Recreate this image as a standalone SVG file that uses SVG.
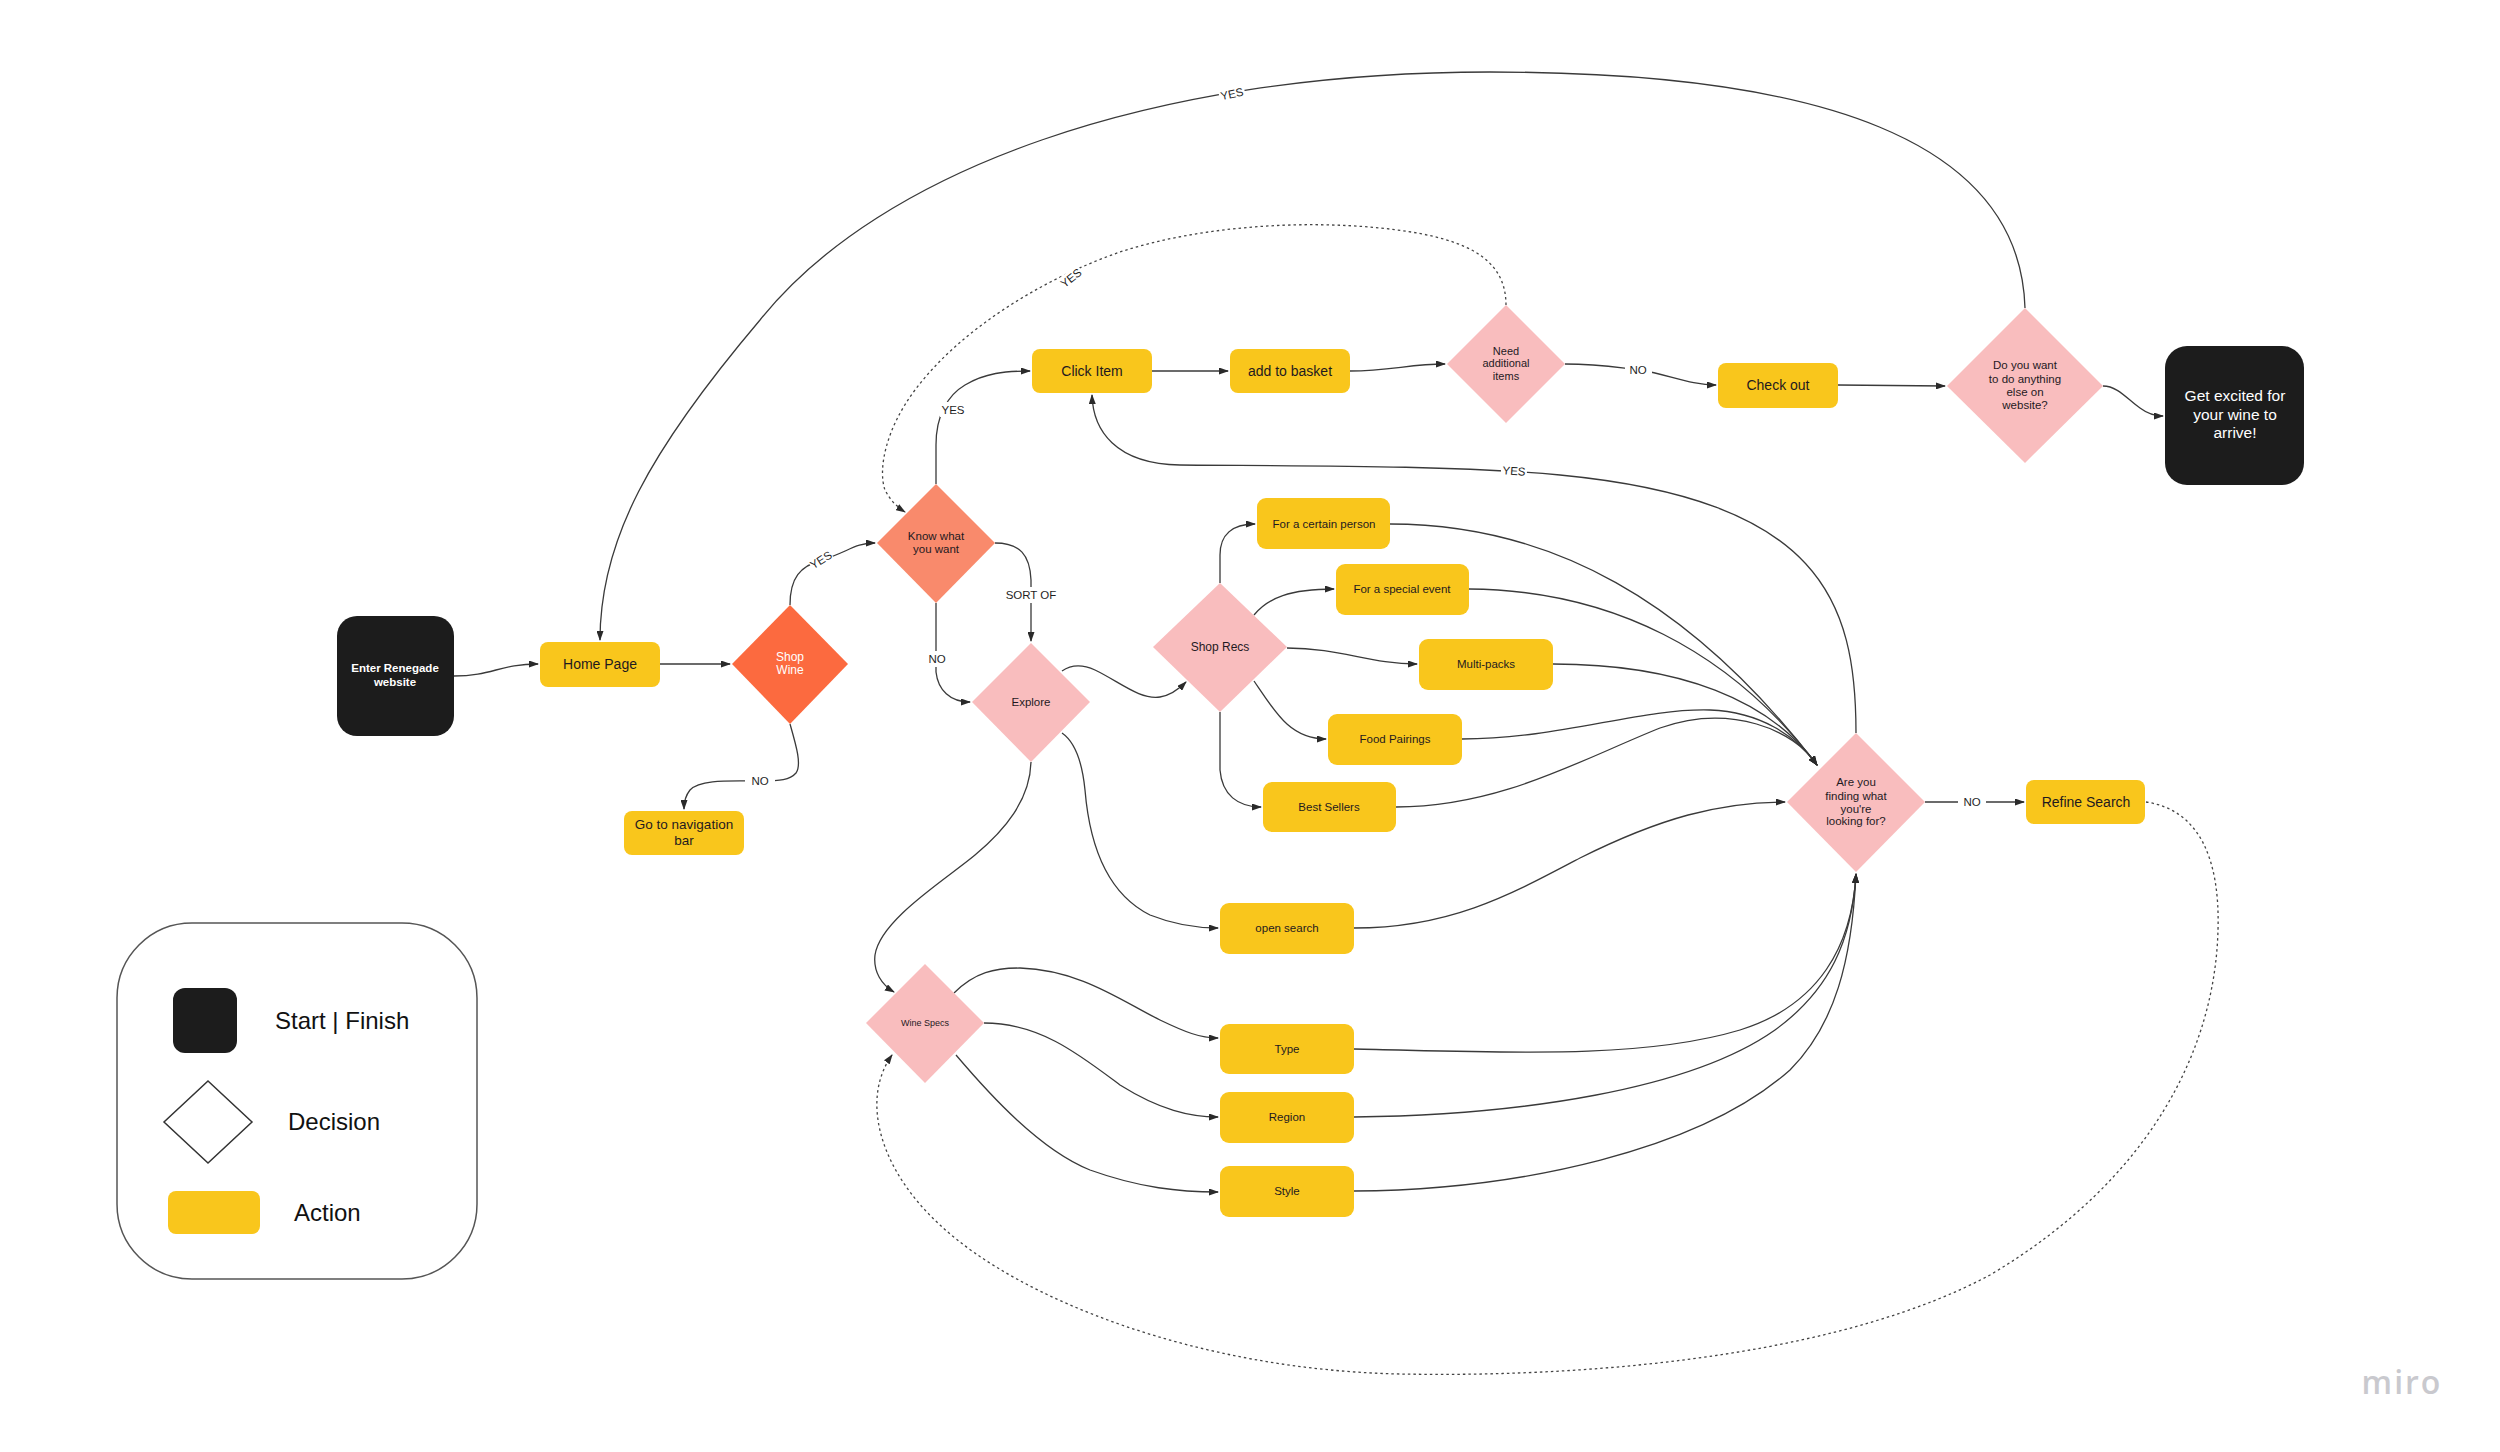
<svg xmlns="http://www.w3.org/2000/svg" width="2500" height="1452" viewBox="0 0 2500 1452">
<defs>
<marker id="arr" markerUnits="userSpaceOnUse" markerWidth="10" markerHeight="7" refX="9" refY="3.5" orient="auto">
<path d="M0,0 L10,3.5 L0,7 z" fill="#2a2a2a"/>
</marker>
<style>
.act{fill:#F9C61C}
.dec{fill:#F9BDBE}
.term{fill:#1c1c1c}
.t{font-family:"Liberation Sans",Arial,sans-serif;text-anchor:middle;fill:#1f1a1f}
.tw{font-family:"Liberation Sans",Arial,sans-serif;text-anchor:middle;fill:#ffffff}
.e{fill:none;stroke:#3a3a3a;stroke-width:1.3}
.ea{fill:none;stroke:#3a3a3a;stroke-width:1.3;marker-end:url(#arr)}
.ed{fill:none;stroke:#444;stroke-width:1.3;stroke-dasharray:2.5 3;marker-end:url(#arr)}
.lbg{fill:#ffffff}
.lbl{font-family:"Liberation Sans",Arial,sans-serif;font-size:11.5px;text-anchor:middle;fill:#1f1f1f}
.lg{font-family:"Liberation Sans",Arial,sans-serif;font-size:24px;fill:#111}
</style>
</defs>
<rect width="2500" height="1452" fill="#ffffff"/>

<g id="connectors">
<path class="ea" d="M454,676 C492,676 500,664 538,664"/>
<path class="ea" d="M660,664 L730,664"/>
<path class="ea" d="M790,605 C790,578 800,566 822,560 C848,552 855,543 875,543"/>
<path class="ea" d="M790,724 C796,745 802,765 796,773 C790,780 780,781 760,781 C730,781 700,779 690,790 C686,795 684,800 684,809"/>
<path class="ea" d="M936,484 L936,445 C936,415 948,395 965,385 C985,373 1005,371 1030,371"/>
<path class="ea" d="M995,543 C1020,543 1030,555 1031,580 L1031,641"/>
<path class="ea" d="M936,603 L936,672 C938,690 950,702 970,702"/>
<path class="ea" d="M1062,671 C1072,664 1082,664 1095,670 C1120,682 1140,700 1160,697 C1172,695 1180,688 1186,682"/>
<path class="ea" d="M1220,583 L1220,555 C1220,535 1232,524 1255,524"/>
<path class="ea" d="M1254,615 C1268,598 1290,589 1334,589"/>
<path class="ea" d="M1287,648 C1340,648 1370,664 1417,664"/>
<path class="ea" d="M1254,681 C1275,712 1290,739 1326,739"/>
<path class="ea" d="M1220,712 L1220,770 C1222,795 1238,807 1261,807"/>
<path class="ea" d="M1031,762 C1030,800 1005,830 975,855 C945,880 880,920 875,955 C873,972 882,985 894,992"/>
<path class="ea" d="M1062,733 C1075,742 1082,760 1085,790 C1090,850 1110,895 1150,915 C1175,925 1195,928 1218,928"/>
<path class="ea" d="M954,993 C975,972 995,968 1020,968 C1080,970 1120,1000 1160,1020 C1185,1032 1200,1038 1218,1038"/>
<path class="ea" d="M984,1023 C1040,1023 1080,1055 1120,1085 C1160,1110 1190,1117 1218,1117"/>
<path class="ea" d="M956,1055 C990,1095 1040,1150 1090,1170 C1140,1188 1180,1192 1218,1192"/>
<path class="ea" d="M1152,371 L1228,371"/>
<path class="ea" d="M1350,371 C1390,371 1410,364 1445,364"/>
<path class="ea" d="M1565,364 C1600,364 1620,368 1640,370 C1670,375 1690,385 1716,385"/>
<path class="ea" d="M1838,385 L1945,386"/>
<path class="ea" d="M2103,386 C2118,386 2128,400 2140,408 C2148,414 2155,416 2163,416"/>
<path class="ea" d="M2025,308 C2020,140 1820,72 1490,72 C1150,72 880,170 760,320 C650,450 600,540 600,640"/>
<path class="ed" d="M1506,305 C1506,255 1460,236 1380,228 C1300,220 1200,226 1120,252 C1040,280 960,330 915,390 C885,430 878,470 885,490 C890,500 897,507 905,512"/>
<path class="ea" d="M1856,733 C1856,600 1820,500 1560,475 C1450,465 1300,466 1180,465 C1115,464 1093,430 1092,395"/>
<path class="ea" d="M1925,802 L2024,802"/>
<path class="ed" d="M2146,802 C2200,810 2220,860 2218,930 C2215,1050 2150,1180 1990,1275 C1850,1350 1620,1378 1400,1374 C1200,1370 1020,1300 940,1225 C880,1170 860,1100 892,1055"/>
<path class="ea" d="M1390,524 C1550,524 1690,600 1817,765"/>
<path class="ea" d="M1469,589 C1610,590 1730,650 1817,765"/>
<path class="ea" d="M1553,664 C1680,664 1770,700 1817,765"/>
<path class="ea" d="M1462,739 C1560,739 1640,708 1710,710 C1760,712 1795,735 1817,765"/>
<path class="ea" d="M1396,807 C1500,807 1580,760 1660,728 C1730,703 1795,730 1817,765"/>
<path class="ea" d="M1354,928 C1450,928 1510,895 1580,858 C1660,818 1720,802 1785,802"/>
<path class="ea" d="M1354,1049 C1500,1052 1640,1060 1740,1030 C1820,1005 1852,945 1856,874"/>
<path class="ea" d="M1354,1117 C1520,1115 1690,1090 1775,1030 C1830,990 1852,940 1856,874"/>
<path class="ea" d="M1354,1191 C1520,1190 1700,1150 1790,1070 C1835,1025 1852,960 1856,874"/>
<!-- labels -->
<g transform="translate(821,560) rotate(-32)"><rect class="lbg" x="-12" y="-7" width="24" height="14"/><text class="lbl" x="0" y="4" font-size="11">YES</text></g>
<rect class="lbg" x="745" y="773" width="30" height="16"/><text class="lbl" x="760" y="785">NO</text>
<rect class="lbg" x="940" y="402" width="26" height="15"/><text class="lbl" x="953" y="414">YES</text>
<rect class="lbg" x="1005" y="587" width="52" height="16"/><text class="lbl" x="1031" y="599">SORT OF</text>
<rect class="lbg" x="925" y="651" width="24" height="16"/><text class="lbl" x="937" y="663">NO</text>
<rect class="lbg" x="1625" y="362" width="27" height="16"/><text class="lbl" x="1638" y="374">NO</text>
<g transform="translate(1232,94) rotate(-12)"><rect class="lbg" x="-13" y="-7" width="26" height="14"/><text class="lbl" x="0" y="4" font-size="11">YES</text></g>
<g transform="translate(1071,278) rotate(-38)"><rect class="lbg" x="-13" y="-7" width="26" height="14"/><text class="lbl" x="0" y="4" font-size="11">YES</text></g>
<g transform="translate(1514,471) rotate(4)"><rect class="lbg" x="-13" y="-7" width="26" height="14"/><text class="lbl" x="0" y="4" font-size="11">YES</text></g>
<rect class="lbg" x="1958" y="794" width="28" height="16"/><text class="lbl" x="1972" y="806">NO</text>
</g>

<g id="n_enter"><rect class="term" x="337" y="616" width="117" height="120" rx="20"/><text class="tw" font-size="11.5" font-weight="bold"><tspan x="395" y="672">Enter Renegade</tspan><tspan x="395" y="686">website</tspan></text></g>
<g id="n_home"><rect class="act" x="540" y="642" width="120" height="45" rx="8"/><text class="t" x="600" y="669" font-size="14">Home Page</text></g>
<g id="n_shopwine"><polygon points="790,605 848,664 790,724 732,664" fill="#FC6A3F"/><text class="tw" font-size="12"><tspan x="790" y="661">Shop</tspan><tspan x="790" y="674">Wine</tspan></text></g>
<g id="n_nav"><rect class="act" x="624" y="811" width="120" height="44" rx="8"/><text class="t" font-size="13.5"><tspan x="684" y="829">Go to navigation</tspan><tspan x="684" y="845">bar</tspan></text></g>
<g id="n_know"><polygon points="936,484 995,543 936,603 877,543" fill="#F98A6C"/><text class="t" font-size="11.5"><tspan x="936" y="540">Know what</tspan><tspan x="936" y="553">you want</tspan></text></g>
<g id="n_explore"><polygon class="dec" points="1031,643 1090,702 1031,762 972,702"/><text class="t" x="1031" y="706" font-size="11.5">Explore</text></g>
<g id="n_shoprecs"><polygon class="dec" points="1220,583 1287,647 1220,712 1153,647"/><text class="t" x="1220" y="651" font-size="12">Shop Recs</text></g>
<g id="n_person"><rect class="act" x="1257" y="498" width="133" height="51" rx="9"/><text class="t" x="1324" y="528" font-size="11.5">For a certain person</text></g>
<g id="n_event"><rect class="act" x="1336" y="564" width="133" height="51" rx="9"/><text class="t" x="1402" y="593" font-size="11.5">For a special event</text></g>
<g id="n_multi"><rect class="act" x="1419" y="639" width="134" height="51" rx="9"/><text class="t" x="1486" y="668" font-size="11.5">Multi-packs</text></g>
<g id="n_food"><rect class="act" x="1328" y="714" width="134" height="51" rx="9"/><text class="t" x="1395" y="743" font-size="11.5">Food Pairings</text></g>
<g id="n_best"><rect class="act" x="1263" y="782" width="133" height="50" rx="9"/><text class="t" x="1329" y="811" font-size="11.5">Best Sellers</text></g>
<g id="n_open"><rect class="act" x="1220" y="903" width="134" height="51" rx="9"/><text class="t" x="1287" y="932" font-size="11.5">open search</text></g>
<g id="n_winespecs"><polygon class="dec" points="925,964 984,1023 925,1083 866,1023"/><text class="t" x="925" y="1026" font-size="9">Wine Specs</text></g>
<g id="n_type"><rect class="act" x="1220" y="1024" width="134" height="50" rx="9"/><text class="t" x="1287" y="1053" font-size="11.5">Type</text></g>
<g id="n_region"><rect class="act" x="1220" y="1092" width="134" height="51" rx="9"/><text class="t" x="1287" y="1121" font-size="11.5">Region</text></g>
<g id="n_style"><rect class="act" x="1220" y="1166" width="134" height="51" rx="9"/><text class="t" x="1287" y="1195" font-size="11.5">Style</text></g>
<g id="n_click"><rect class="act" x="1032" y="349" width="120" height="44" rx="8"/><text class="t" x="1092" y="376" font-size="14">Click Item</text></g>
<g id="n_add"><rect class="act" x="1230" y="349" width="120" height="44" rx="8"/><text class="t" x="1290" y="376" font-size="14">add to basket</text></g>
<g id="n_need"><polygon class="dec" points="1506,305 1565,364 1506,423 1447,364"/><text class="t" font-size="11"><tspan x="1506" y="355">Need</tspan><tspan x="1506" y="367">additional</tspan><tspan x="1506" y="380">items</tspan></text></g>
<g id="n_checkout"><rect class="act" x="1718" y="363" width="120" height="45" rx="8"/><text class="t" x="1778" y="390" font-size="14">Check out</text></g>
<g id="n_doyou"><polygon class="dec" points="2025,308 2103,386 2025,463 1947,386"/><text class="t" font-size="11.5"><tspan x="2025" y="369">Do you want</tspan><tspan x="2025" y="383">to do anything</tspan><tspan x="2025" y="396">else on</tspan><tspan x="2025" y="409">website?</tspan></text></g>
<g id="n_excited"><rect class="term" x="2165" y="346" width="139" height="139" rx="22"/><text class="tw" font-size="15.5"><tspan x="2235" y="401">Get excited for</tspan><tspan x="2235" y="420">your wine to</tspan><tspan x="2235" y="438">arrive!</tspan></text></g>
<g id="n_are"><polygon class="dec" points="1856,733 1925,802 1856,872 1787,802"/><text class="t" font-size="11.5"><tspan x="1856" y="786">Are you</tspan><tspan x="1856" y="800">finding what</tspan><tspan x="1856" y="813">you're</tspan><tspan x="1856" y="825">looking for?</tspan></text></g>
<g id="n_refine"><rect class="act" x="2026" y="780" width="119" height="44" rx="8"/><text class="t" x="2086" y="807" font-size="14">Refine Search</text></g>

<g id="legend">
<rect x="117" y="923" width="360" height="356" rx="75" fill="#fff" stroke="#555" stroke-width="1.5"/>
<rect class="term" x="173" y="988" width="64" height="65" rx="12"/>
<text class="lg" x="275" y="1029">Start | Finish</text>
<polygon points="208,1081 252,1122 208,1163 164,1122" fill="#fff" stroke="#333" stroke-width="1.5"/>
<text class="lg" x="288" y="1130">Decision</text>
<rect class="act" x="168" y="1191" width="92" height="43" rx="8"/>
<text class="lg" x="294" y="1221">Action</text>
</g>

<text x="2402" y="1394" font-family="'Open Sans',sans-serif" font-size="32" font-weight="600" fill="#c9c9ce" text-anchor="middle" letter-spacing="2">miro</text>
</svg>
